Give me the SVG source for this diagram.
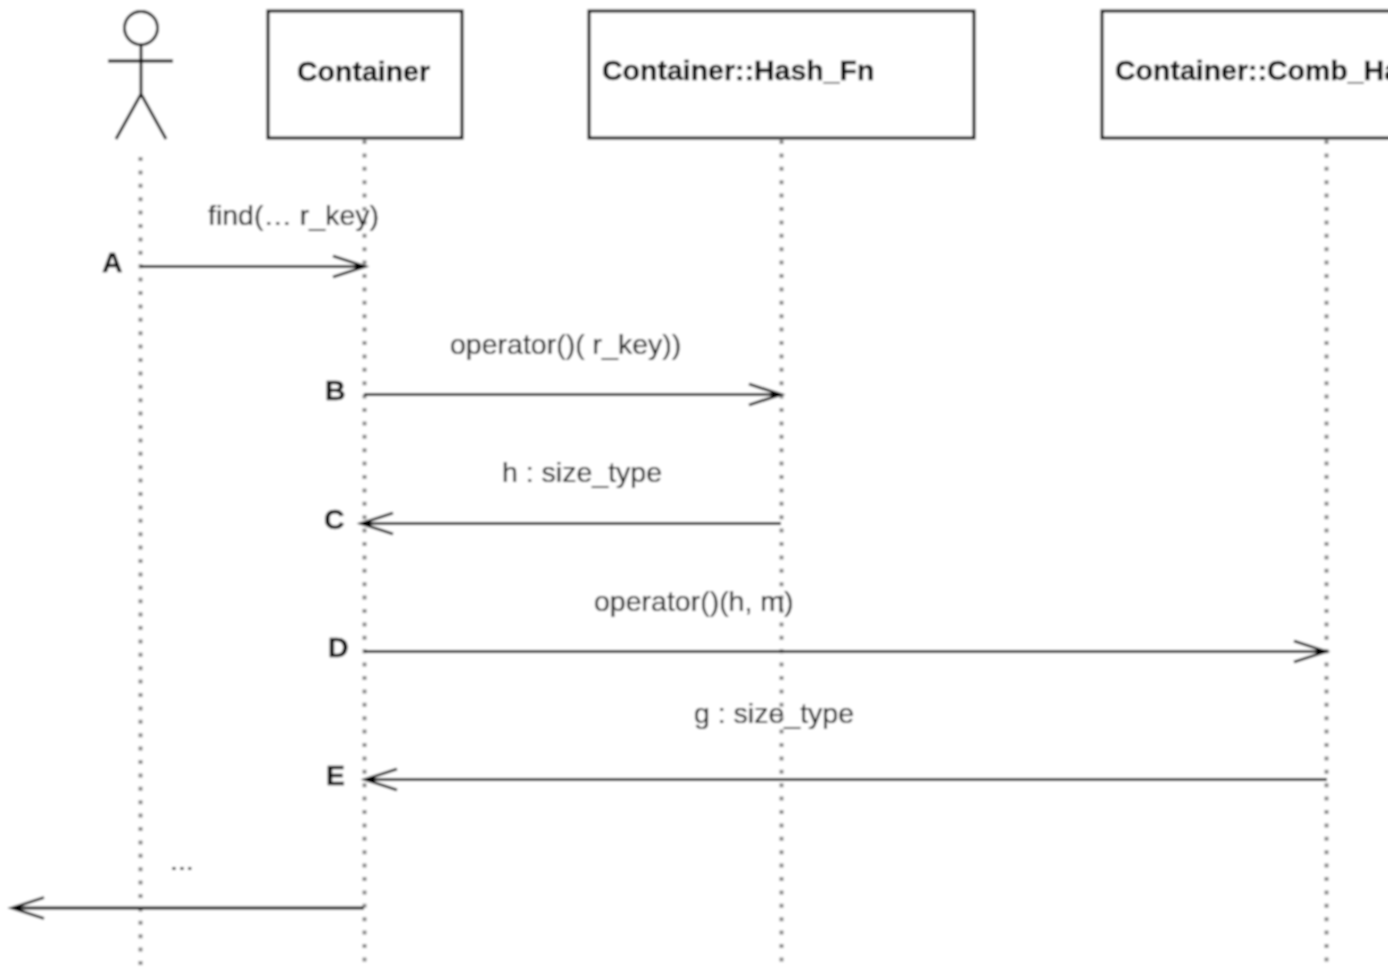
<svg xmlns="http://www.w3.org/2000/svg" width="1388" height="970" viewBox="0 0 1388 970">
<style>
text{font-family:"Liberation Sans",Arial,sans-serif;fill:#000}
.t{font-size:28.5px;font-weight:bold;stroke:#000;stroke-width:.3px}
.m{font-size:28.5px;fill:#111;stroke:#111;stroke-width:.2px}
.l{font-size:28.5px;font-weight:bold;stroke:#000;stroke-width:.3px}
.b{fill:#fff;stroke:#000;stroke-width:3}
.a{fill:none;stroke:#000;stroke-width:2.800}
.d{fill:none;stroke:#888;stroke-width:4;stroke-dasharray:4 9.400}
</style>
<defs><filter id="soft" x="0" y="0" width="100%" height="100%"><feGaussianBlur stdDeviation="0.8"/></filter></defs>
<rect width="1388" height="970" fill="#fff"/>
<g filter="url(#soft)">
<rect width="1388" height="970" fill="#fff"/>
<g id="lifelines">
<path class="d" d="M140.500 157V965"/>
<path class="d" d="M364.500 140V970"/>
<path class="d" d="M781.500 140V970"/>
<path class="d" d="M1326.500 140V970"/>
</g>
<g id="actor" class="a">
<circle cx="141" cy="28" r="16.500"/>
<path d="M141 45V94M108 61H173M141 94L116 139M141 94L166 139"/>
</g>
<g id="node-container"><rect class="b" x="268" y="11" width="194" height="127"/><text class="t" x="297" y="81">Container</text></g>
<g id="node-hash"><rect class="b" x="589" y="11" width="385" height="127"/><text class="t" x="602" y="80">Container::Hash_Fn</text></g>
<g id="node-comb"><rect class="b" x="1102" y="11" width="300" height="127"/><text class="t" x="1115" y="80">Container::Comb_Ha</text></g>
<g id="connectors">
<path class="a" d="M140 266.500H364M333 256L365 266.500L333 277"/>
<path class="a" d="M364 394.500H781M749 384L781 394.500L749 405"/>
<path class="a" d="M781 523.500H361M393 513L361 523.500L393 534"/>
<path class="a" d="M364 651.500H1326M1294 641L1326 651.500L1294 662"/>
<path class="a" d="M1327 779.500H365M397 769L365 779.500L397 790"/>
<path class="a" d="M364 908H12M44 897.500L12 908L44 918.500"/>
</g>
<g id="labels">
<text class="m" x="208" y="225">find(… r_key)</text>
<text class="m" x="450" y="354">operator()( r_key))</text>
<text class="m" x="502" y="482">h : size_type</text>
<text class="m" x="594" y="611">operator()(h, m)</text>
<text class="m" x="694" y="723">g : size_type</text>
<text class="m" x="170" y="870">...</text>
<text class="l" x="102" y="272">A</text>
<text class="l" x="325" y="400">B</text>
<text class="l" x="324" y="529">C</text>
<text class="l" x="328" y="657">D</text>
<text class="l" x="326" y="785">E</text>
</g>
</g>
</svg>
